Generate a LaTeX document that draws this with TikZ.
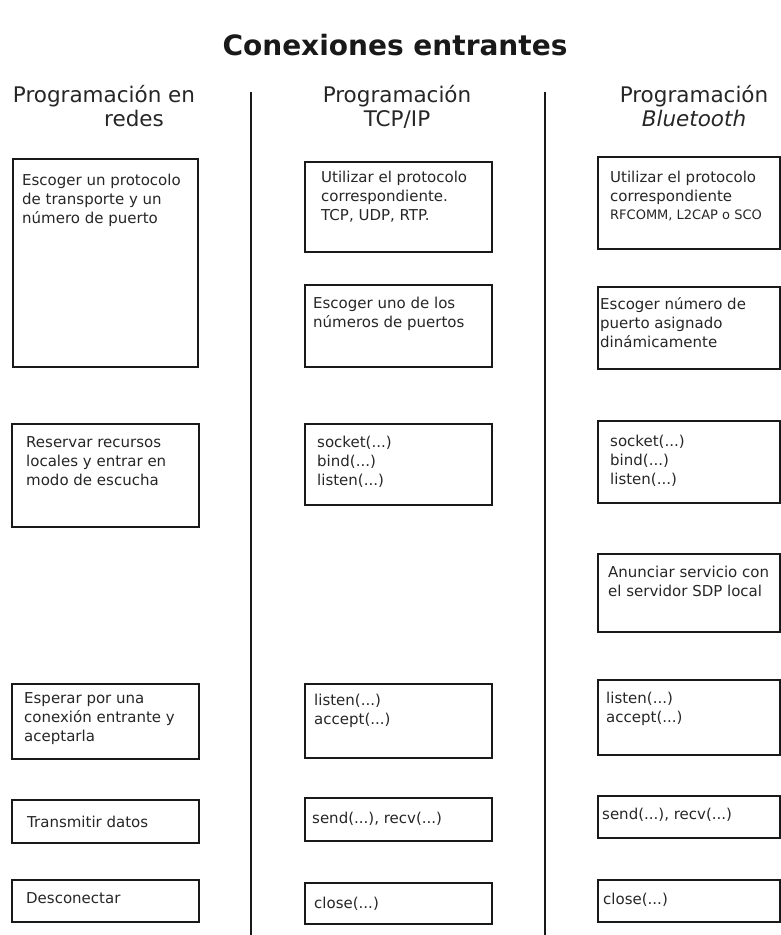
\documentclass[tikz,border=0pt]{standalone}
\usepackage{fontspec}
\setmainfont{DejaVu Sans}
\begin{document}
\begin{tikzpicture}[x=1pt,y=-1pt,
  stepbox/.style={draw=black!90, line width=2pt, inner sep=0pt, anchor=north west},
  boxtext/.style={anchor=north west, inner sep=0pt, align=left, yshift=13.3pt,
    text=black!85, font=\fontsize{15}{19}\selectfont, execute at begin node=\strut},
  headtext/.style={anchor=base, inner sep=0pt, text=black!85, font=\fontsize{21.5}{26}\selectfont},
  titletext/.style={anchor=base, inner sep=0pt, text=black!90, font=\bfseries\fontsize{28}{34}\selectfont},
  divider/.style={draw=black!90, line width=1.8pt}]
\useasboundingbox (0,0) rectangle (781,935);

% box with corners (x1,y1) and (x2,y2), in pixels from top left
\newcommand\stepnode[5]{\node[stepbox, minimum width={#4-#2}, minimum height={#5-#3}] (#1) at (#2,#3) {};}

% title and column heads
\node[titletext] (title) at (395,55) {Conexiones entrantes};
\node[headtext] (h1a) at (104,102) {Programación en};
\node[headtext] (h1b) at (134,126) {redes};
\node[headtext] (h2a) at (397,102) {Programación};
\node[headtext] (h2b) at (397,126) {TCP/IP};
\node[headtext] (h3a) at (694,102) {Programación};
\node[headtext] (h3b) at (694,126) {\itshape Bluetooth};

% column dividers
\coordinate (d1t) at (251,92);
\coordinate (d1b) at (251,935);
\coordinate (d2t) at (545,92);
\coordinate (d2b) at (545,935);
\draw[divider] (d1t) -- (d1b);
\draw[divider] (d2t) -- (d2b);

% general network programming
\stepnode{a1}{12}{158}{197}{366}
\node[boxtext] (a1t) at (22,187) {Escoger un protocolo\\de transporte y un\\número de puerto};
\stepnode{a2}{11}{423}{198}{526}
\node[boxtext] (a2t) at (26,450) {Reservar recursos\\locales y entrar en\\modo de escucha};
\stepnode{a3}{11}{683}{198}{758}
\node[boxtext] (a3t) at (24,706) {Esperar por una\\conexión entrante y\\aceptarla};
\stepnode{a4}{11}{799}{198}{842}
\node[boxtext] (a4t) at (27,827) {Transmitir datos};
\stepnode{a5}{11}{879}{198}{921}
\node[boxtext] (a5t) at (26,903) {Desconectar};

% TCP/IP
\stepnode{b1}{304}{161}{491}{251}
\node[boxtext] (b1t) at (321,184) {Utilizar el protocolo\\correspondiente.\\TCP, UDP, RTP.};
\stepnode{b2}{304}{284}{491}{366}
\node[boxtext] (b2t) at (313,310) {Escoger uno de los\\números de puertos};
\stepnode{b3}{304}{423}{491}{504}
\node[boxtext] (b3t) at (317,449) {socket(...)\\bind(...)\\listen(...)};
\stepnode{b4}{304}{683}{491}{757}
\node[boxtext] (b4t) at (314,707) {listen(...)\\accept(...)};
\stepnode{b5}{304}{797}{491}{840}
\node[boxtext] (b5t) at (312,823) {send(...), recv(...)};
\stepnode{b6}{304}{882}{491}{923}
\node[boxtext] (b6t) at (314,908) {close(...)};

% Bluetooth
\stepnode{c1}{597}{156}{779}{248}
\node[boxtext] (c1t) at (610,184) {Utilizar el protocolo\\correspondiente\\[-1pt]{\fontsize{13}{16}\selectfont RFCOMM, L2CAP o SCO}};
\stepnode{c2}{597}{286}{779}{368}
\node[boxtext] (c2t) at (600,311) {Escoger número de\\puerto asignado\\dinámicamente};
\stepnode{c3}{597}{420}{779}{502}
\node[boxtext] (c3t) at (610,448) {socket(...)\\bind(...)\\listen(...)};
\stepnode{c4}{597}{553}{779}{631}
\node[boxtext] (c4t) at (608,579) {Anunciar servicio con\\el servidor SDP local};
\stepnode{c5}{597}{679}{779}{754}
\node[boxtext] (c5t) at (606,705) {listen(...)\\accept(...)};
\stepnode{c6}{597}{795}{779}{837}
\node[boxtext] (c6t) at (602,819) {send(...), recv(...)};
\stepnode{c7}{597}{879}{779}{921}
\node[boxtext] (c7t) at (603,904) {close(...)};
\end{tikzpicture}
\end{document}
